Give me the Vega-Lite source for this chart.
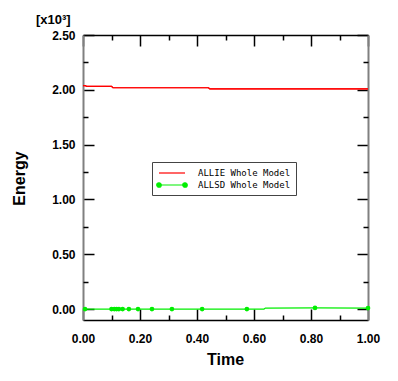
{
  "$schema": "https://vega.github.io/schema/vega-lite/v6.json",
  "width": 285,
  "height": 285,
  "autosize": {"type": "none"},
  "padding": {"left": 83, "top": 35, "right": 30, "bottom": 61},
  "background": "white",
  "title": {"text": "[x10³]", "anchor": "start", "frame": "group", "dx": -47, "offset": 2, "fontSize": 13, "font": "Liberation Sans", "fontWeight": "bold", "color": "black"},
  "config": {
    "view": {"stroke": null},
    "axis": {"grid": false, "labelFlush": false, "labelFont": "Liberation Sans", "labelFontWeight": "bold", "labelFontSize": 12, "labelColor": "black", "titleFont": "Liberation Sans", "titleFontWeight": "bold", "titleFontSize": 16, "titleColor": "black", "tickColor": "black", "tickWidth": 1.5}
  },
  "datasets": {
    "allie": [
      {"t": 0.0, "e": 2.039},
      {"t": 0.008, "e": 2.039},
      {"t": 0.012, "e": 2.032},
      {"t": 0.1, "e": 2.032},
      {"t": 0.105, "e": 2.019},
      {"t": 0.44, "e": 2.019},
      {"t": 0.445, "e": 2.009},
      {"t": 1.0, "e": 2.008}
    ],
    "allsd_line": [
      {"t": 0.007, "e": 0, "s": "ALLSD Whole Model"},
      {"t": 0.1, "e": 0, "s": "ALLSD Whole Model"},
      {"t": 0.2, "e": 0, "s": "ALLSD Whole Model"},
      {"t": 0.42, "e": 0, "s": "ALLSD Whole Model"},
      {"t": 0.575, "e": 0, "s": "ALLSD Whole Model"},
      {"t": 0.635, "e": 0, "s": "ALLSD Whole Model"},
      {"t": 0.64, "e": 0.009, "s": "ALLSD Whole Model"},
      {"t": 0.814, "e": 0.01, "s": "ALLSD Whole Model"},
      {"t": 1.0, "e": 0.009, "s": "ALLSD Whole Model"}
    ],
    "allsd_pts": [
      {"t": 0.007, "e": 0},
      {"t": 0.1, "e": 0},
      {"t": 0.11, "e": 0},
      {"t": 0.118, "e": 0},
      {"t": 0.126, "e": 0},
      {"t": 0.139, "e": 0},
      {"t": 0.161, "e": 0},
      {"t": 0.193, "e": 0},
      {"t": 0.242, "e": 0},
      {"t": 0.312, "e": 0},
      {"t": 0.418, "e": 0},
      {"t": 0.575, "e": 0},
      {"t": 0.814, "e": 0.01},
      {"t": 1.0, "e": 0.009}
    ]
  },
  "layer": [
    {
      "data": {"name": "allsd_line"},
      "mark": {"type": "line", "strokeWidth": 1.2},
      "encoding": {
        "x": {"field": "t", "type": "quantitative", "scale": {"domain": [0, 1], "nice": false, "zero": false},
          "axis": {"orient": "bottom", "values": [0, 0.2, 0.4, 0.6, 0.8, 1.0], "format": ".2f", "tickSize": -11, "labelPadding": 24, "title": "Time", "titleX": 142, "titleY": 44, "titleBaseline": "alphabetic", "domainColor": "black", "domainWidth": 1.5}},
        "y": {"field": "e", "type": "quantitative", "scale": {"domain": [-0.1, 2.5], "nice": false, "zero": false},
          "axis": {"orient": "left", "values": [0, 0.5, 1.0, 1.5, 2.0, 2.5], "format": ".2f", "tickSize": -11, "labelPadding": 19, "title": "Energy", "titleX": -59, "titleY": 143, "titleAngle": -90, "titleAlign": "center", "titleBaseline": "alphabetic", "domainColor": "#808080", "domainWidth": 2}},
        "color": {"field": "s", "type": "nominal",
          "scale": {"domain": ["ALLIE Whole Model", "ALLSD Whole Model"], "range": ["#ff0000", "#00ee00"]},
          "legend": {"title": null, "orient": "none", "legendX": 69, "legendY": 127,
            "strokeColor": "#444444", "fillColor": "white", "padding": 5,
            "labelFont": "DejaVu Sans Mono", "labelFontSize": 9, "labelColor": "black",
            "symbolSize": 100, "rowPadding": 1, "labelOffset": 20, "symbolOffset": 9,
            "symbolType": "M-2.6,0H2.6",
            "encode": {"symbols": {"update": {
              "shape": {"signal": "datum.value == 'ALLSD Whole Model' ? 'M-2.6,0H2.6M-3.05,0a0.45,0.45 0 1,0 0.9,0a0.45,0.45 0 1,0 -0.9,0M2.15,0a0.45,0.45 0 1,0 0.9,0a0.45,0.45 0 1,0 -0.9,0' : 'M-2.6,0H2.6'"},
              "fill": {"signal": "datum.value == 'ALLSD Whole Model' ? '#00ee00' : 'transparent'"},
              "stroke": {"signal": "datum.value == 'ALLSD Whole Model' ? '#00ee00' : '#ff0000'"},
              "strokeWidth": {"value": 1.2},
              "opacity": {"value": 1}
            }}}
          }}
      }
    },
    {
      "data": {"name": "allsd_pts"},
      "mark": {"type": "point", "filled": true, "size": 22, "color": "#00ee00", "opacity": 1},
      "encoding": {
        "x": {"field": "t", "type": "quantitative",
          "axis": {"orient": "bottom", "values": [0.1, 0.3, 0.5, 0.7, 0.9], "labels": false, "domain": false, "tickSize": -5, "title": null}},
        "y": {"field": "e", "type": "quantitative",
          "axis": {"orient": "left", "values": [0.25, 0.75, 1.25, 1.75, 2.25], "labels": false, "domain": false, "tickSize": -5, "title": null}}
      }
    },
    {
      "data": {"name": "allie"},
      "mark": {"type": "line", "strokeWidth": 1.2, "color": "#ff0000"},
      "encoding": {
        "x": {"field": "t", "type": "quantitative",
          "axis": {"orient": "top", "values": [0, 0.2, 0.4, 0.6, 0.8, 1.0], "labels": false, "tickSize": -11, "title": null, "domainColor": "black", "domainWidth": 1.5}},
        "y": {"field": "e", "type": "quantitative",
          "axis": {"orient": "right", "values": [0, 0.5, 1.0, 1.5, 2.0, 2.5], "labels": false, "tickSize": -11, "title": null, "domainColor": "#808080", "domainWidth": 2}}
      }
    },
    {
      "data": {"name": "allie"},
      "mark": {"type": "line", "strokeWidth": 1.2, "color": "#ff0000"},
      "encoding": {
        "x": {"field": "t", "type": "quantitative",
          "axis": {"orient": "top", "values": [0.1, 0.3, 0.5, 0.7, 0.9], "labels": false, "domain": false, "tickSize": -5, "title": null}},
        "y": {"field": "e", "type": "quantitative",
          "axis": {"orient": "right", "values": [0.25, 0.75, 1.25, 1.75, 2.25], "labels": false, "domain": false, "tickSize": -5, "title": null}}
      }
    }
  ],
  "resolve": {"axis": {"x": "independent", "y": "independent"}}
}
